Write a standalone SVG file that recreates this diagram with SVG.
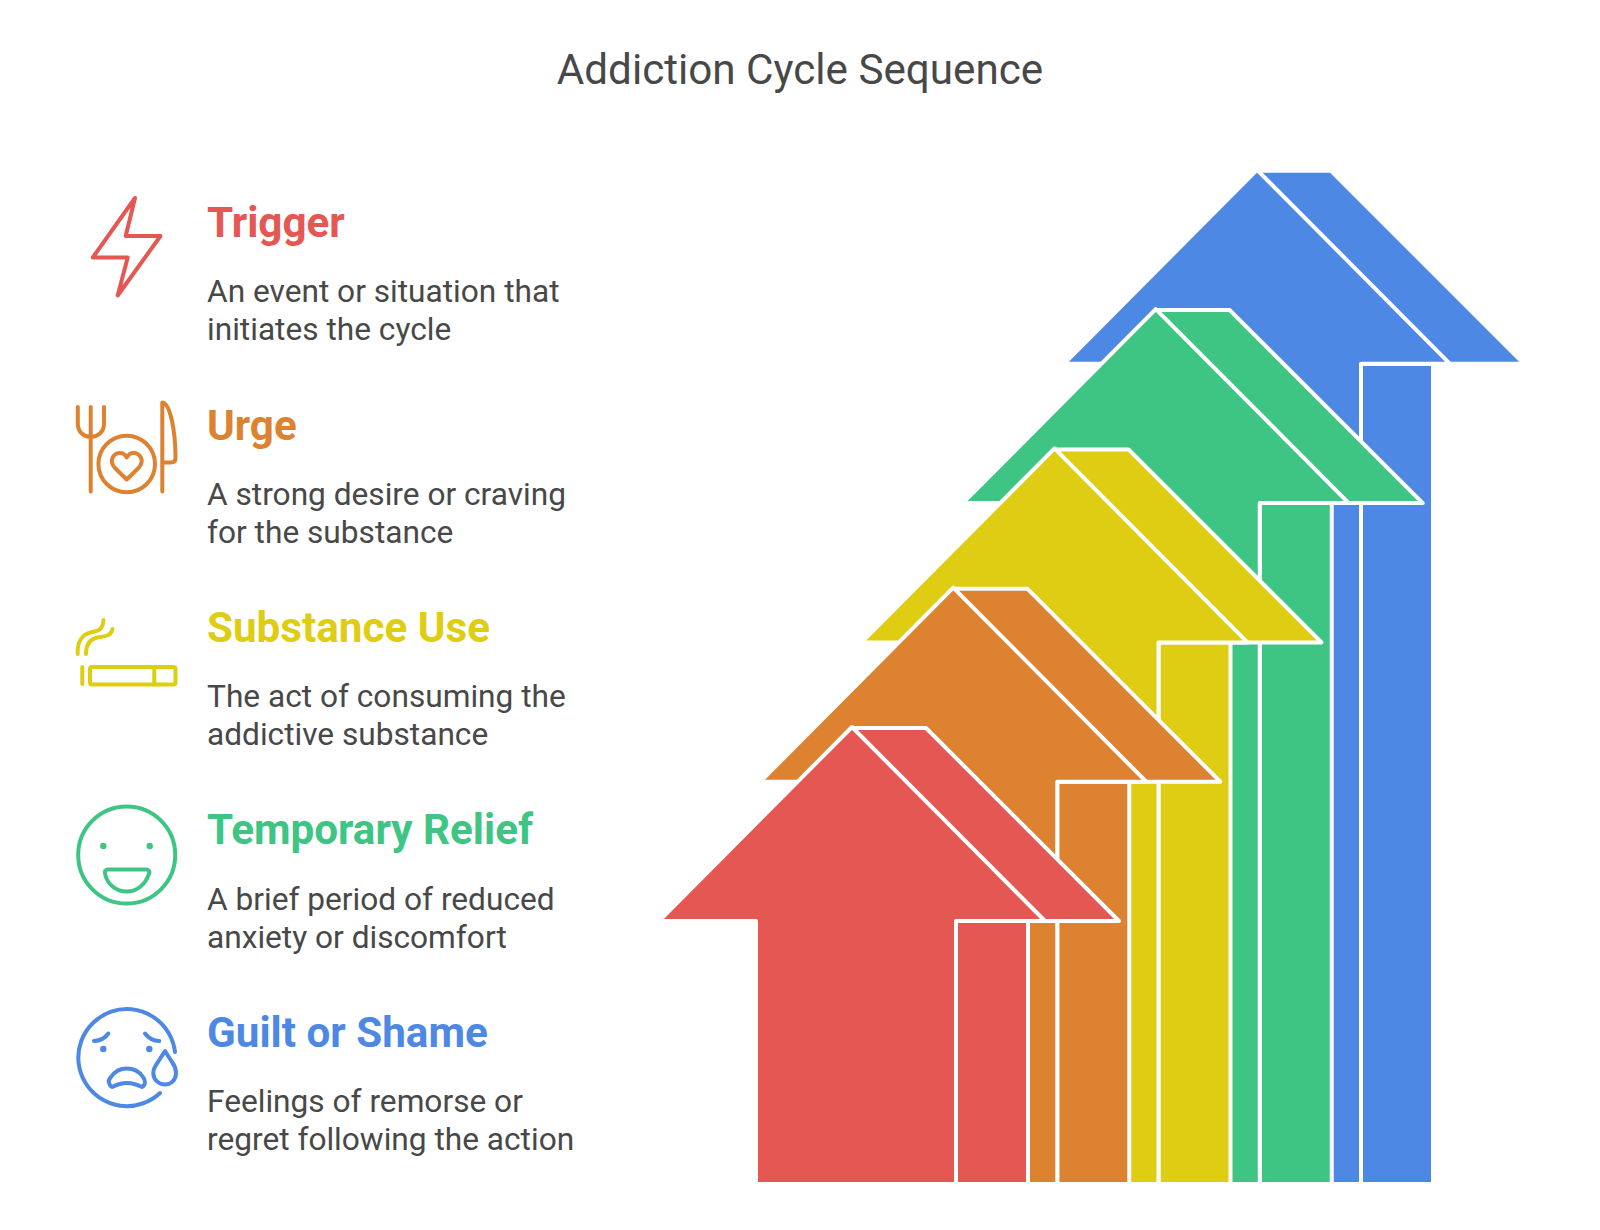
<svg xmlns="http://www.w3.org/2000/svg" width="1600" height="1230" viewBox="0 0 1600 1230">
<style>
text{font-family:Roboto,"Liberation Sans",sans-serif}
.title{font-size:42.2px;fill:#484848;text-anchor:middle}
.head{font-size:42.2px;font-weight:700}
.body{font-size:31.65px;fill:#484848}
.face{stroke:#fff;stroke-width:4;stroke-linejoin:round;stroke-linecap:round}
.ic{fill:none;stroke-width:4;stroke-linecap:round;stroke-linejoin:round}
.dot{stroke:none}
</style>
<rect width="1600" height="1230" fill="#fff"/>
<text class="title" x="800" y="84">Addiction Cycle Sequence</text>
<g id="arrows">
<g id="arrow-guilt" fill="#4e88e5" transform="translate(405,-557.2)">
<path class="face" d="M956 921H1119L926 728H852ZM956 921V1741.2H1028V921Z"/>
<path class="face" d="M659 921L852 727L1045 921H956V1741.2H756V921Z"/>
</g>
<g id="arrow-relief" fill="#3ec584" transform="translate(303.75,-417.9)">
<path class="face" d="M956 921H1119L926 728H852ZM956 921V1601.9H1028V921Z"/>
<path class="face" d="M659 921L852 727L1045 921H956V1601.9H756V921Z"/>
</g>
<g id="arrow-use" fill="#dfcd14" transform="translate(202.5,-278.6)">
<path class="face" d="M956 921H1119L926 728H852ZM956 921V1462.6H1028V921Z"/>
<path class="face" d="M659 921L852 727L1045 921H956V1462.6H756V921Z"/>
</g>
<g id="arrow-urge" fill="#dd8230" transform="translate(101.25,-139.3)">
<path class="face" d="M956 921H1119L926 728H852ZM956 921V1323.3H1028V921Z"/>
<path class="face" d="M659 921L852 727L1045 921H956V1323.3H756V921Z"/>
</g>
<g id="arrow-trigger" fill="#e55753">
<path class="face" d="M956 921H1119L926 728H852ZM956 921V1184H1028V921Z"/>
<path class="face" d="M659 921L852 727L1045 921H956V1184H756V921Z"/>
</g>
</g>
<g id="node-trigger">
<path class="ic" stroke="#e55753" d="M135 198L125.700 236H160.500L117.700 295.500L127.700 257.500H92.800Z"/>
<text class="head" x="207" y="236.700" fill="#e55753">Trigger</text>
<text class="body" x="207" y="301.500">An event or situation that</text>
<text class="body" x="207" y="339.500">initiates the cycle</text>
</g>
<g id="node-urge">
<g class="ic" stroke="#dd8230">
<path d="M77.800 407V424C77.800 432 84 437 90.700 437C97.500 437 104 432 104 424V407M90.700 407V491.500"/>
<circle cx="126.700" cy="464" r="28.300"/>
<path d="M126.700 479.500L115 468C108 460 114 453 120 453C123 453 125.500 455 126.700 457.500C128 455 130.500 453 133.500 453C139.500 453 145.500 460 138.500 468Z"/>
<path d="M162.300 491.500V402.500C170 403 175.500 430 175.500 458C175.500 461 174 462.500 171 462.500H162.300"/>
</g>
<text class="head" x="207" y="439.700" fill="#dd8230">Urge</text>
<text class="body" x="207" y="504.500">A strong desire or craving</text>
<text class="body" x="207" y="542.500">for the substance</text>
</g>
<g id="node-use">
<g class="ic" stroke="#dfcd14">
<path d="M77.700 654C77 642 82 634 92 632C100 631 103 628 103.500 620"/>
<path d="M86 654C86 644 91 638 100 637C108 636 111 635 112.500 629"/>
<rect x="90" y="667" width="85.500" height="17.500" rx="2"/>
<path d="M154.300 667V684.500M82.300 667V684"/>
</g>
<text class="head" x="207" y="641.700" fill="#dfcd14">Substance Use</text>
<text class="body" x="207" y="706.500">The act of consuming the</text>
<text class="body" x="207" y="744.500">addictive substance</text>
</g>
<g id="node-relief">
<g class="ic" stroke="#3ec584">
<circle cx="126.700" cy="855" r="48.500"/>
<path d="M108 869.500H146C148.500 869.500 150 871 149 873.500C146 884 137 891.500 126.700 891.500C116 891.500 107 884 105 873.500C104.500 871 105.500 869.500 108 869.500Z"/>
</g>
<circle class="dot" fill="#3ec584" cx="103.300" cy="846" r="3.200"/>
<circle class="dot" fill="#3ec584" cx="149.700" cy="846" r="3.200"/>
<text class="head" x="207" y="844.200" fill="#3ec584">Temporary Relief</text>
<text class="body" x="207" y="909.500">A brief period of reduced</text>
<text class="body" x="207" y="947.500">anxiety or discomfort</text>
</g>
<g id="node-guilt">
<g class="ic" stroke="#4e88e5">
<path d="M175 1052A48.500 48.500 0 1 0 160 1093"/>
<path d="M94 1041C100 1040.800 105 1038.300 108.300 1033.500M145 1033.500C148.500 1038.300 153.500 1040.800 159.300 1041"/>
<path d="M110 1085C108 1082 109 1079 111 1077C115 1071 120 1068.500 126.700 1068.500C133 1068.500 139 1071 143 1077C146 1081 145.500 1085 142 1087C138 1085 132 1083 126.700 1083C121 1083 116 1085 112 1087C111.500 1087 110.500 1086 110 1085Z"/>
<path d="M165 1051L172 1062C175 1066 176 1069 176 1073C176 1080 171 1084.500 165 1084.500C159 1084.500 153.300 1080 153.300 1073C153.300 1069 155 1066 158 1062Z"/>
</g>
<circle class="dot" fill="#4e88e5" cx="103.300" cy="1049" r="3.200"/>
<circle class="dot" fill="#4e88e5" cx="149.300" cy="1049" r="3.200"/>
<text class="head" x="207" y="1046.700" fill="#4e88e5">Guilt or Shame</text>
<text class="body" x="207" y="1111.500">Feelings of remorse or</text>
<text class="body" x="207" y="1149.500">regret following the action</text>
</g>
</svg>
